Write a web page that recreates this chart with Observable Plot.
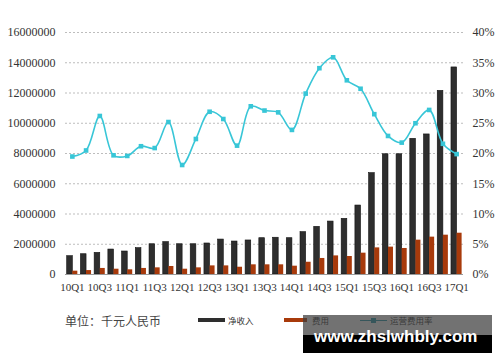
<!DOCTYPE html>
<html><head><meta charset="utf-8">
<script src="https://cdn.jsdelivr.net/npm/d3@7"></script>
<script src="https://cdn.jsdelivr.net/npm/@observablehq/plot@0.6"></script>
<style>
body{margin:0;background:#fff;}
#wrap{position:relative;width:500px;height:362px;overflow:hidden;}
.abs{position:absolute;white-space:nowrap;}
.lg{font-family:"Noto Sans CJK SC",sans-serif;font-size:8.5px;color:#333;line-height:10px;}
</style></head>
<body><div id="wrap"><div id="chart"></div>
<div class="abs" style="left:65px;top:313px;font-family:'Noto Sans CJK SC',sans-serif;font-size:12px;color:#444;line-height:16px;">单位：千元人民币</div>
<div class="abs" style="left:198px;top:318px;width:27px;height:4px;background:#2e2e2e;"></div>
<div class="abs lg" style="left:228px;top:315px;">净收入</div>
<div class="abs" style="left:284px;top:318px;width:23px;height:4px;background:#a83a0b;"></div>
<div class="abs lg" style="left:312px;top:315px;">费用</div>
<div class="abs" style="left:360px;top:319.5px;width:27px;height:1.5px;background:#2a9aad;"></div>
<div class="abs" style="left:371px;top:318px;width:5px;height:5px;background:#2a9aad;"></div>
<div class="abs lg" style="left:390px;top:315px;">运营费用率</div>
<div class="abs" style="left:303px;top:315px;width:189px;height:20px;background:rgba(60,60,60,0.72);"></div>
<div class="abs" style="left:303px;top:335px;width:189px;height:18px;background:#000;"></div>
<div class="abs" style="left:314px;top:328px;font-family:'Liberation Sans',sans-serif;font-weight:bold;font-size:17px;line-height:17px;color:#fff;">www.zhslwhbly.com</div>
</div>
<script>
const quarters = ["10Q1","10Q2","10Q3","10Q4","11Q1","11Q2","11Q3","11Q4","12Q1","12Q2","12Q3","12Q4","13Q1","13Q2","13Q3","13Q4","14Q1","14Q2","14Q3","14Q4","15Q1","15Q2","15Q3","15Q4","16Q1","16Q2","16Q3","16Q4","17Q1"];
const netRevenue = [1210000,1340000,1430000,1650000,1520000,1740000,2000000,2140000,2000000,2000000,2050000,2310000,2180000,2250000,2400000,2430000,2400000,2800000,3150000,3500000,3680000,4560000,6700000,7950000,7950000,8970000,9260000,12140000,13690000];
const expenses = [220000,260000,400000,350000,310000,400000,440000,530000,350000,440000,570000,570000,480000,640000,640000,640000,550000,810000,1060000,1230000,1190000,1410000,1760000,1810000,1720000,2270000,2470000,2600000,2730000];
const opexRatio = [19.5,20.5,26.2,19.7,19.6,21.2,20.9,25.2,18.1,22.4,26.9,25.7,21.3,27.8,27.1,26.8,23.9,29.9,34.1,35.9,32.1,30.7,26.5,22.9,21.8,25.0,27.2,21.6,19.9];
const leftTicks = [0,2000000,4000000,6000000,8000000,10000000,12000000,14000000,16000000];
const rightTicks = [0,5,10,15,20,25,30,35,40];
const xTickLabels = quarters.filter((q,i)=>i%2===0);

const K = 16000000/40;
const rows = quarters.map((q,i)=>({q, net:netRevenue[i], exp:expenses[i], ratio:opexRatio[i]*K}));
const teal = "#38c6d7";
const chart = Plot.plot({
  width:500, height:300, marginTop:32, marginBottom:26, marginLeft:65, marginRight:37,
  x:{type:"band", domain:quarters, paddingInner:0, paddingOuter:0, round:false},
  y:{domain:[0,16000000]},
  style:{fontFamily:"Liberation Serif", fontSize:"12px", color:"#333", background:"transparent"},
  marks:[
    Plot.gridY(leftTicks,{stroke:"#bdbdbd", strokeOpacity:1, strokeDasharray:"2,2"}),
    Plot.axisY(leftTicks,{anchor:"left", tickSize:0, tickPadding:10, label:null, tickFormat:d=>String(d), fontSize:12}),
    Plot.axisY(rightTicks.map(p=>p*K),{anchor:"right", tickSize:0, tickPadding:9, label:null, tickFormat:d=>Math.round(d/K)+"%", fontSize:12}),
    Plot.axisX(xTickLabels,{tickSize:0, tickPadding:9, label:null, fontSize:11}),
    Plot.barY(rows,{x:"q", y:"net", fill:"#2e2e2e", stroke:"#111", strokeWidth:0.6, insetLeft:1.7, insetRight:6.4}),
    Plot.barY(rows,{x:"q", y:"exp", fill:"#a83a0b", insetLeft:7.3, insetRight:1.4}),
    Plot.ruleY([0],{stroke:"#999"}),
    Plot.line(rows,{x:"q", y:"ratio", stroke:teal, strokeWidth:1.6, curve:"catmull-rom"}),
    Plot.dot(rows,{x:"q", y:"ratio", symbol:"square", r:2.6, fill:teal, stroke:"none"})
  ]
});
document.getElementById("chart").append(chart);
</script>
</body></html>
